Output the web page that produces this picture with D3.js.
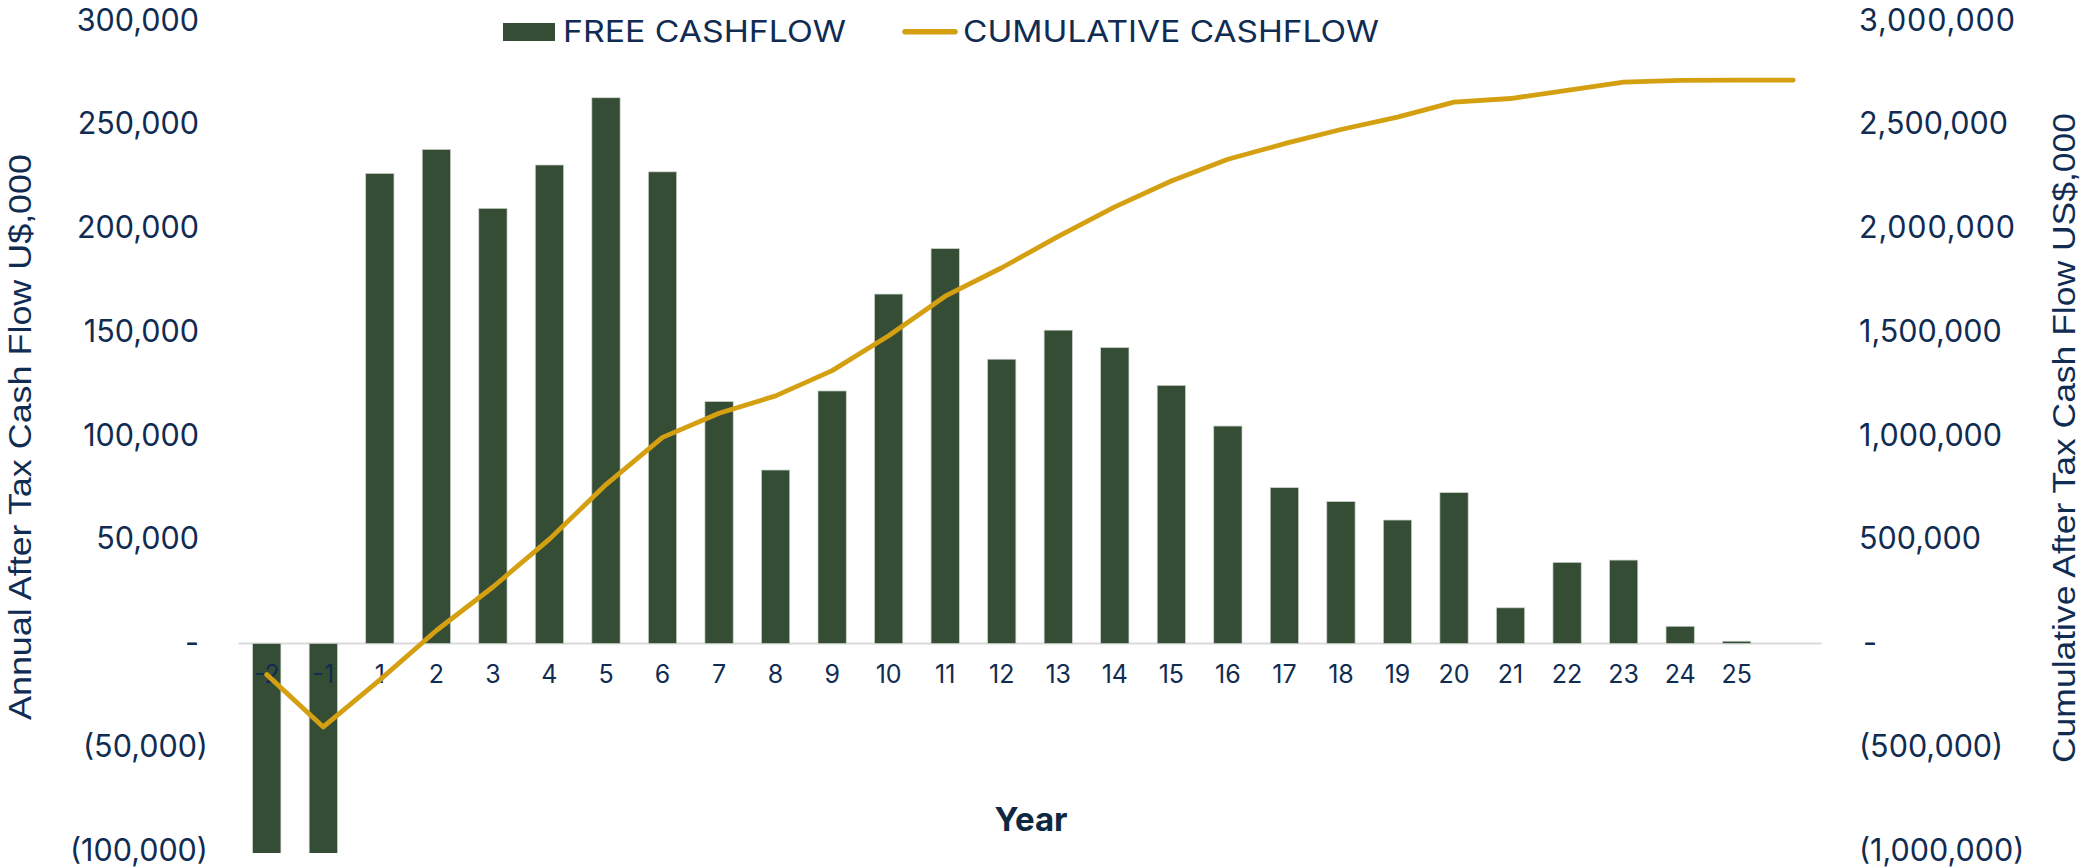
<!DOCTYPE html>
<html>
<head>
<meta charset="utf-8">
<script src="https://cdn.jsdelivr.net/npm/d3@7"></script>
<style>
  html, body { margin: 0; padding: 0; background: #ffffff; }
  svg { display: block; }
</style>
</head>
<body>
<svg id="chart" width="2094" height="868"></svg>
<script>
// ---------------- DATA ----------------
const categories = ["-2","-1","1","2","3","4","5","6","7","8","9","10","11","12","13","14","15","16","17","18","19","20","21","22","23","24","25","26"];
const tickLabels = ["-2","-1","1","2","3","4","5","6","7","8","9","10","11","12","13","14","15","16","17","18","19","20","21","22","23","24","25",""];
const freeCashflow = [-150000, -252000, 226500, 238100, 209700, 230600, 263000, 227300, 116600, 83600, 121700, 168400, 190300, 137000, 151000, 142600, 124400, 104800, 75100, 68400, 59500, 72700, 17200, 39100, 40200, 8300, 1100, 0];
const cumulativeCashflow = [-150000, -402000, -175500, 62600, 272300, 502900, 765900, 993200, 1109800, 1193400, 1315100, 1483500, 1673800, 1810800, 1961800, 2104400, 2228800, 2333600, 2408700, 2477100, 2536600, 2609300, 2626500, 2665600, 2705800, 2714100, 2715200, 2715200];
const leftTicks = [-100000, -50000, 0, 50000, 100000, 150000, 200000, 250000, 300000];
const rightTicks = [-1000000, -500000, 0, 500000, 1000000, 1500000, 2000000, 2500000, 3000000];
const seriesNames = ["FREE CASHFLOW", "CUMULATIVE CASHFLOW"];
const leftTitle = "Annual After Tax  Cash Flow U$,000";
const rightTitle = "Cumulative After Tax Cash Flow US$,000";
const xTitle = "Year";

// ---------------- STYLE ----------------
const barColor = "#364D35";
const lineColor = "#D4A012";
const textColor = "#112C52";
const numFont = "Inter, 'DejaVu Sans', sans-serif";
const narrowFont = "'Liberation Sans Narrow', 'Arial Narrow', 'Liberation Sans', sans-serif";

const plot = { left: 238.5, right: 1821.5, top: 21, bottom: 851 };

const svg = d3.select("#chart");

const x = d3.scaleBand().domain(categories).range([plot.left, plot.right]).paddingInner(0).paddingOuter(0);
const yL = d3.scaleLinear().domain([-100000, 300000]).range([plot.bottom, plot.top]);
const yR = d3.scaleLinear().domain([-1000000, 3000000]).range([plot.bottom, plot.top]);

const fmtNum = d3.format(",");
const fmt = v => v === 0 ? "-" : (v < 0 ? "(" + fmtNum(-v) + ")" : fmtNum(v));

// clip path for plot area
svg.append("defs").append("clipPath").attr("id", "plotClip")
  .append("rect").attr("x", plot.left).attr("y", plot.top - 2)
  .attr("width", plot.right - plot.left).attr("height", plot.bottom - plot.top + 4);

// zero line
svg.append("line")
  .attr("x1", plot.left).attr("x2", plot.right)
  .attr("y1", yL(0)).attr("y2", yL(0))
  .attr("stroke", "#DADADA").attr("stroke-width", 2);

// bars
const bw = x.bandwidth() * 0.5;
svg.append("g").attr("clip-path", "url(#plotClip)")
  .selectAll("rect").data(freeCashflow.map((v, i) => ({ c: categories[i], v })))
  .join("rect")
  .attr("x", d => x(d.c) + (x.bandwidth() - bw) / 2)
  .attr("width", bw)
  .attr("y", d => Math.min(yL(d.v), yL(0)))
  .attr("height", d => Math.abs(yL(d.v) - yL(0)))
  .attr("fill", barColor)
  .attr("stroke", "#c9d0c9").attr("stroke-width", 0.7);

// x axis labels
const xAxis = d3.axisBottom(x).tickSize(0).tickFormat((d, i) => tickLabels[i]);
const gx = svg.append("g").attr("transform", `translate(0,${yL(0)})`).call(xAxis);
gx.select(".domain").remove();
gx.selectAll("text")
  .attr("y", 674 - yL(0)).attr("dy", "0.35em")
  .attr("font-family", numFont).attr("font-size", 25)
  .attr("fill", textColor);

// cumulative line
const line = d3.line()
  .x((d, i) => x(categories[i]) + x.bandwidth() / 2)
  .y(d => yR(d));
svg.append("path").datum(cumulativeCashflow)
  .attr("d", line)
  .attr("fill", "none").attr("stroke", lineColor)
  .attr("stroke-width", 4.8).attr("stroke-linejoin", "round").attr("stroke-linecap", "round");

// left axis
const gl = svg.append("g").attr("transform", `translate(${plot.left},0)`)
  .call(d3.axisLeft(yL).tickValues(leftTicks).tickSize(0).tickPadding(30.5).tickFormat(fmt));
gl.select(".domain").remove();
gl.selectAll("text")
  .attr("font-family", numFont).attr("font-size", 30.5).attr("fill", textColor)
  .attr("dy", "0.3em")
  .attr("dx", d => d >= 0 ? -9 : 0);

// right axis
const gr = svg.append("g").attr("transform", `translate(${plot.right},0)`)
  .call(d3.axisRight(yR).tickValues(rightTicks).tickSize(0).tickPadding(37.5).tickFormat(fmt));
gr.select(".domain").remove();
gr.selectAll("text")
  .attr("font-family", numFont).attr("font-size", 30.5).attr("fill", textColor)
  .attr("dy", "0.3em")
  .attr("textLength", d => d === 3000000 || d === 2000000 ? 156 : null)
  .attr("dx", d => d === 0 ? 4 : 0);

// axis titles
svg.append("text")
  .attr("transform", "translate(31,437) rotate(-90)")
  .attr("text-anchor", "middle")
  .attr("font-family", narrowFont).attr("font-size", 32).attr("fill", textColor)
  .attr("textLength", 566).attr("lengthAdjust", "spacingAndGlyphs")
  .text(leftTitle);
svg.append("text")
  .attr("transform", "translate(2075,438) rotate(-90)")
  .attr("text-anchor", "middle")
  .attr("font-family", narrowFont).attr("font-size", 32).attr("fill", textColor)
  .attr("textLength", 650).attr("lengthAdjust", "spacingAndGlyphs")
  .text(rightTitle);
svg.append("text")
  .attr("x", 1031).attr("y", 819).attr("dy", "0.35em")
  .attr("text-anchor", "middle")
  .attr("font-family", numFont).attr("font-size", 33).attr("font-weight", 700)
  .attr("fill", "#0E2841")
  .text(xTitle);

// legend
const lg = svg.append("g");
lg.append("rect").attr("x", 503).attr("y", 23).attr("width", 52).attr("height", 18).attr("fill", barColor);
lg.append("text").attr("x", 563).attr("y", 31.5).attr("dy", "0.35em")
  .attr("font-family", numFont).attr("font-size", 30).attr("font-weight", 400).attr("fill", textColor)
  .attr("textLength", 283).attr("lengthAdjust", "spacingAndGlyphs")
  .text(seriesNames[0]);
lg.append("line").attr("x1", 905).attr("x2", 955).attr("y1", 31.7).attr("y2", 31.7)
  .attr("stroke", lineColor).attr("stroke-width", 5.5).attr("stroke-linecap", "round");
lg.append("text").attr("x", 963).attr("y", 31.5).attr("dy", "0.35em")
  .attr("font-family", numFont).attr("font-size", 30).attr("font-weight", 400).attr("fill", textColor)
  .attr("textLength", 416).attr("lengthAdjust", "spacingAndGlyphs")
  .text(seriesNames[1]);
</script>
</body>
</html>
